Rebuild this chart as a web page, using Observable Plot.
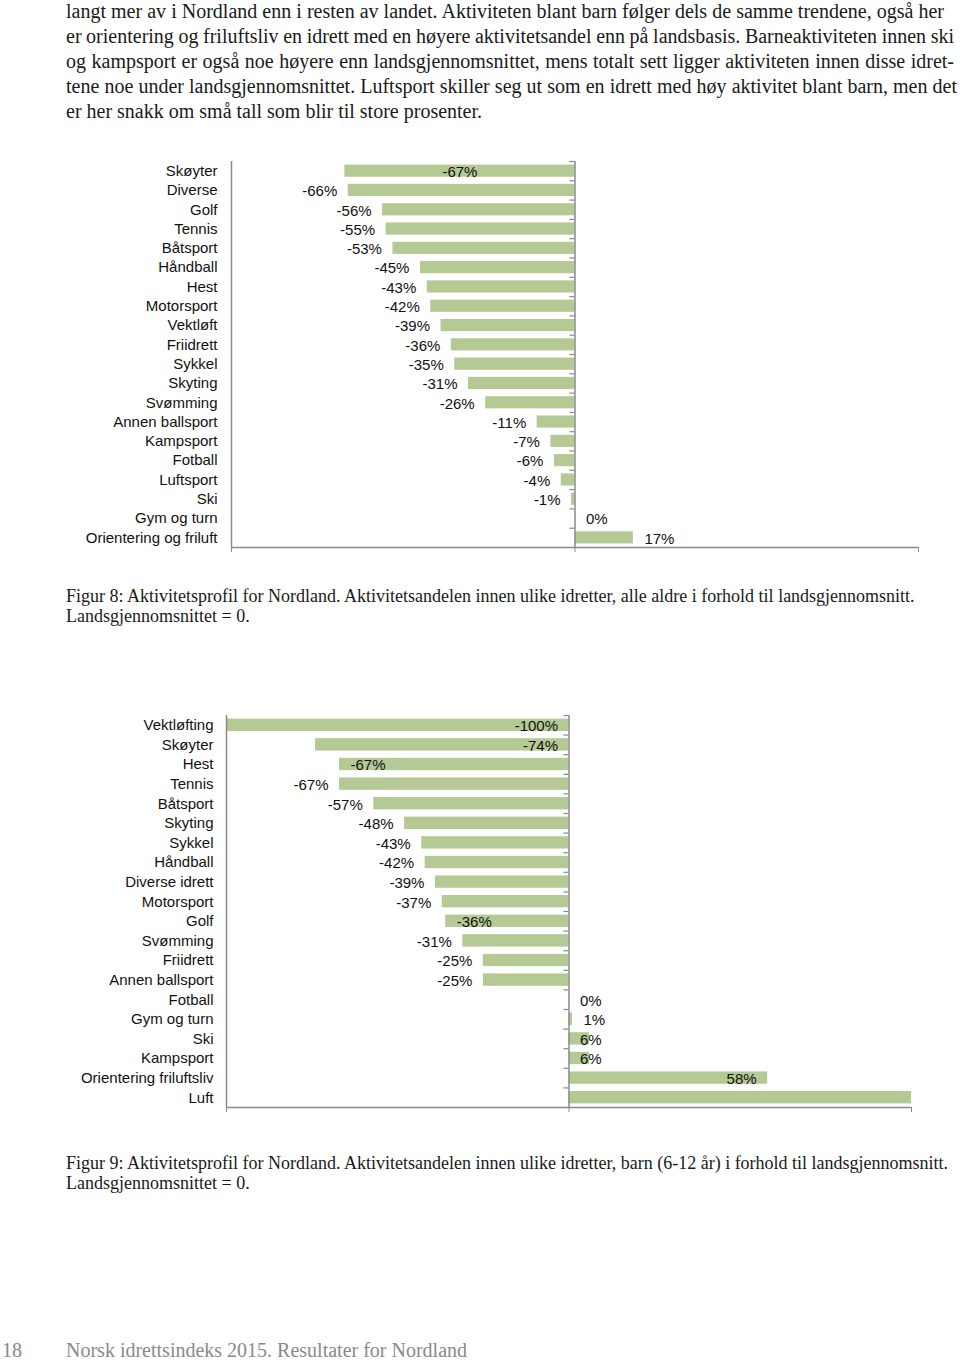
<!DOCTYPE html>
<html><head><meta charset="utf-8">
<script src="https://cdn.jsdelivr.net/npm/d3@7"></script>
<script src="https://cdn.jsdelivr.net/npm/@observablehq/plot@0.6"></script>
<style>
html,body{margin:0;padding:0;background:#fff;}
#page{position:relative;width:960px;height:1362px;overflow:hidden;font-family:"Liberation Serif","DejaVu Serif",serif;color:#1a1a1a;}
.txt{position:absolute;left:66px;top:-1px;font-size:20px;line-height:25px;}
.txt .j{text-align:justify;text-align-last:justify;word-spacing:-2px;}
.cap{position:absolute;left:66px;width:890px;font-size:18px;line-height:19.5px;}
.chart{position:absolute;left:0;line-height:0;}
.foot{position:absolute;top:1341px;font-size:20px;line-height:18px;color:#8a8a8a;}
</style></head>
<body><div id="page">
<div class="txt">
<div class="j" style="width:878px">langt mer av i Nordland enn i resten av landet. Aktiviteten blant barn følger dels de samme trendene, også her</div>
<div class="j" style="width:888px">er orientering og friluftsliv en idrett med en høyere aktivitetsandel enn på landsbasis. Barneaktiviteten innen ski</div>
<div class="j" style="width:888px">og kampsport er også noe høyere enn landsgjennomsnittet, mens totalt sett ligger aktiviteten innen disse idret-</div>
<div class="j" style="width:891px">tene noe under landsgjennomsnittet. Luftsport skiller seg ut som en idrett med høy aktivitet blant barn, men det</div>
<div>er her snakk om små tall som blir til store prosenter.</div>
</div>
<div class="chart" id="c1" style="top:150px"></div>
<div class="cap" style="top:587px">Figur 8: Aktivitetsprofil for Nordland. Aktivitetsandelen innen ulike idretter, alle aldre i forhold til landsgjennomsnitt.<br>Landsgjennomsnittet = 0.</div>
<div class="chart" id="c2" style="top:704px"></div>
<div class="cap" style="top:1154px">Figur 9: Aktivitetsprofil for Nordland. Aktivitetsandelen innen ulike idretter, barn (6-12 år) i forhold til landsgjennomsnitt.<br>Landsgjennomsnittet = 0.</div>
<div class="foot" style="left:2px">18</div>
<div class="foot" style="left:66px">Norsk idrettsindeks 2015. Resultater for Nordland</div>
</div>
<script>
// Figure 8: all ages
const cats1 = ["Skøyter","Diverse","Golf","Tennis","Båtsport","Håndball","Hest","Motorsport","Vektløft","Friidrett","Sykkel","Skyting","Svømming","Annen ballsport","Kampsport","Fotball","Luftsport","Ski","Gym og turn","Orientering og friluft"];
const vals1 = [-67,-66,-56,-55,-53,-45,-43,-42,-39,-36,-35,-31,-26,-11,-7,-6,-4,-1,0,17];
// label placement style (Excel data-label quirks)
const place1 = ["mid","out","out","out","out","out","out","out","out","out","out","out","out","out","out","out","out","out","out","out"];

// Figure 9: children 6-12
const cats2 = ["Vektløfting","Skøyter","Hest","Tennis","Båtsport","Skyting","Sykkel","Håndball","Diverse idrett","Motorsport","Golf","Svømming","Friidrett","Annen ballsport","Fotball","Gym og turn","Ski","Kampsport","Orientering friluftsliv","Luft"];
const vals2 = [-100,-74,-67,-67,-57,-48,-43,-42,-39,-37,-36,-31,-25,-25,0,1,6,6,58,100];
const place2 = ["inBase","inBase","inEnd","out","out","out","out","out","out","out","inEnd","out","out","out","out","out","inBase","inBase","inEnd","none"];

const axisColor = "#8a8a8a";
const barColor = "#b4c994";

function chart({cats, vals, place, height, marginLeft, marginRight, tickPadding}) {
  const data = cats.map((c, i) => ({cat: c, v: vals[i], p: place[i]}));
  const marginTop = 11, marginBottom = 12;
  const step = (height - marginTop - marginBottom) / cats.length;
  const anchorX = d => d.p === "mid" ? d.v / 2 : d.p === "inBase" ? 0 : d.v;
  const side = d => {
    if (d.p === "mid") return "middle";
    const neg = d.v < 0;
    if (d.p === "out") return neg ? "end" : "start";
    if (d.p === "inEnd") return neg ? "start" : "end";
    return neg ? "end" : "start";
  };
  const lbl = anchor => Plot.text(data.filter(d => d.p !== "none" && side(d) === anchor), {
    x: anchorX, y: "cat", text: d => `${d.v}%`, textAnchor: anchor,
    dx: anchor === "start" ? 11 : anchor === "end" ? -11 : 0, dy: 1, fill: "#111"
  });
  return Plot.plot({
    width: 960, height, marginTop, marginBottom, marginLeft, marginRight,
    style: {fontFamily: "'Liberation Sans', Arial, sans-serif", fontSize: "15px", background: "transparent", color: "#111", overflow: "visible"},
    x: {domain: [-100, 100], label: null},
    y: {domain: cats, paddingInner: 0.37, paddingOuter: 0.185, round: false, label: null},
    marks: [
      Plot.barX(data, {x: "v", y: "cat", fill: barColor}),
      Plot.ruleY(cats, {y: d => d, x1: -1.5, x2: 0, dy: -step / 2, stroke: axisColor, strokeWidth: 1.2}),
      Plot.ruleX([-100, 0], {stroke: axisColor, strokeWidth: 1.5}),
      Plot.ruleY([cats[cats.length - 1]], {y: d => d, x1: -100, x2: 100, dy: step / 2, stroke: axisColor, strokeWidth: 1.5}),
      Plot.axisX({ticks: [-100, 0, 100], tickSize: 5, tickFormat: () => "", stroke: axisColor}),
      Plot.axisY({tickSize: 0, tickPadding, label: null}),
      lbl("start"), lbl("end"), lbl("middle")
    ]
  });
}

document.getElementById("c1").append(chart({cats: cats1, vals: vals1, place: place1, height: 409, marginLeft: 231, marginRight: 42, tickPadding: 14}));
document.getElementById("c2").append(chart({cats: cats2, vals: vals2, place: place2, height: 415, marginLeft: 226, marginRight: 49, tickPadding: 13}));
</script>
</body></html>
